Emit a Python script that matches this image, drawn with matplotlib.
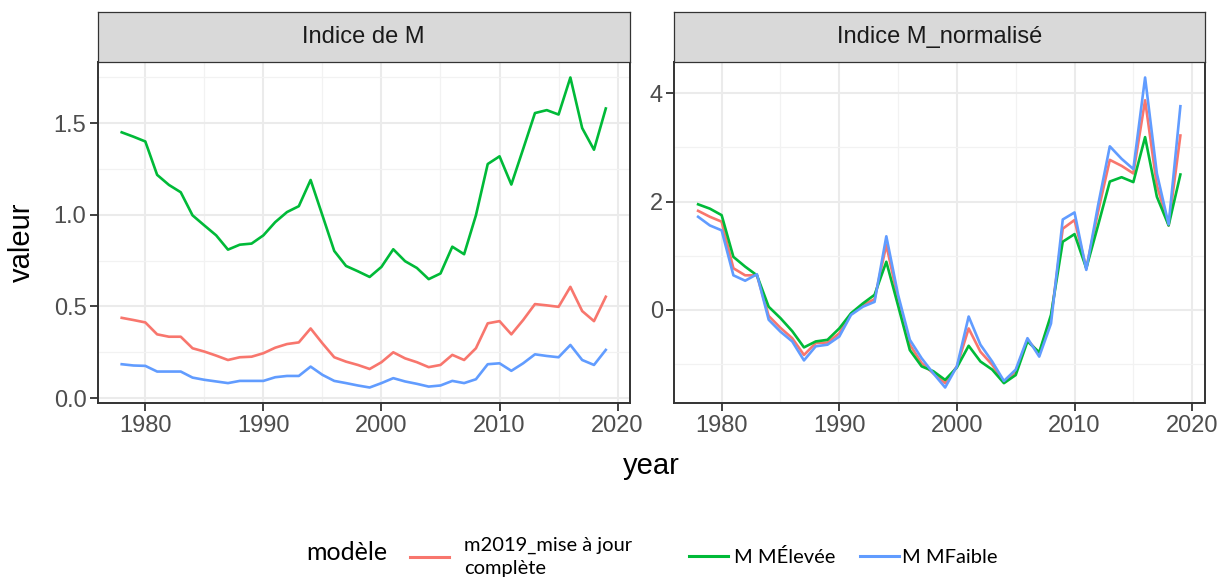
import matplotlib
matplotlib.use("Agg")
import matplotlib.pyplot as plt
from matplotlib.lines import Line2D
from matplotlib.ticker import MultipleLocator

years = [1978, 1979, 1980, 1981, 1982, 1983, 1984, 1985, 1986, 1987, 1988, 1989,
         1990, 1991, 1992, 1993, 1994, 1995, 1996, 1997, 1998, 1999, 2000, 2001,
         2002, 2003, 2004, 2005, 2006, 2007, 2008, 2009, 2010, 2011, 2012, 2013,
         2014, 2015, 2016, 2017, 2018, 2019]

# Panel 1: Indice de M
m2019_raw = [0.438, 0.426, 0.413, 0.348, 0.335, 0.335, 0.272, 0.254, 0.232, 0.208, 0.223, 0.226,
             0.245, 0.275, 0.295, 0.304, 0.380, 0.299, 0.223, 0.199, 0.181, 0.159, 0.196, 0.250,
             0.217, 0.196, 0.169, 0.181, 0.236, 0.208, 0.272, 0.408, 0.420, 0.348, 0.426, 0.513,
             0.506, 0.498, 0.607, 0.475, 0.420, 0.553]
elevee_raw = [1.450, 1.426, 1.400, 1.218, 1.163, 1.123, 0.997, 0.942, 0.888, 0.810, 0.837, 0.843,
              0.888, 0.960, 1.015, 1.047, 1.190, 0.997, 0.803, 0.721, 0.692, 0.661, 0.716, 0.812,
              0.747, 0.710, 0.649, 0.680, 0.826, 0.785, 0.997, 1.277, 1.319, 1.165, 1.359, 1.555,
              1.571, 1.547, 1.749, 1.473, 1.355, 1.580]
faible_raw = [0.185, 0.178, 0.176, 0.145, 0.145, 0.145, 0.112, 0.100, 0.091, 0.082, 0.094, 0.094,
              0.094, 0.114, 0.121, 0.121, 0.172, 0.127, 0.094, 0.082, 0.069, 0.058, 0.082, 0.109,
              0.091, 0.078, 0.063, 0.069, 0.094, 0.082, 0.103, 0.185, 0.190, 0.149, 0.190, 0.239,
              0.230, 0.223, 0.290, 0.208, 0.181, 0.263]

# Panel 2: Indice M_normalisé
m2019_norm = [1.83, 1.72, 1.63, 0.77, 0.64, 0.64, -0.11, -0.33, -0.52, -0.83, -0.61, -0.60,
              -0.43, -0.07, 0.09, 0.20, 1.20, 0.20, -0.64, -0.98, -1.17, -1.35, -1.04, -0.34,
              -0.77, -1.01, -1.32, -1.14, -0.55, -0.80, -0.15, 1.50, 1.66, 0.77, 1.81, 2.77,
              2.66, 2.52, 3.87, 2.30, 1.56, 3.22]
elevee_norm = [1.95, 1.87, 1.75, 0.98, 0.80, 0.64, 0.06, -0.15, -0.39, -0.69, -0.58, -0.55,
               -0.34, -0.06, 0.12, 0.28, 0.89, 0.08, -0.74, -1.04, -1.13, -1.29, -1.06, -0.66,
               -0.95, -1.10, -1.35, -1.20, -0.58, -0.78, -0.09, 1.26, 1.40, 0.77, 1.56, 2.37,
               2.45, 2.36, 3.19, 2.09, 1.56, 2.50]
faible_norm = [1.72, 1.56, 1.47, 0.64, 0.54, 0.66, -0.18, -0.40, -0.58, -0.93, -0.67, -0.64,
               -0.49, -0.09, 0.06, 0.15, 1.36, 0.28, -0.55, -0.89, -1.17, -1.43, -1.04, -0.12,
               -0.64, -0.95, -1.31, -1.10, -0.52, -0.86, -0.25, 1.67, 1.80, 0.74, 1.93, 3.02,
               2.79, 2.60, 4.29, 2.52, 1.58, 3.76]

series_labels = ["m2019_mise à jour\ncomplète", "M MÉlevée", "M MFaible"]
series_colors = ["#F8766D", "#00BA38", "#619CFF"]
panel_titles = ["Indice de M", "Indice M_normalisé"]
legend_title = "modèle"
x_label = "year"
y_label = "valeur"

W, H = 1224, 579
fig = plt.figure(figsize=(W / 100, H / 100), dpi=100)
fig.patch.set_facecolor("white")

tick_font = "Liberation Sans"
leg_font = "Lato"

panels = [
    dict(left=97.5, right=630.0, data=[m2019_raw, elevee_raw, faible_raw],
         ymajor=0.5, yminor=0.25, fmt="{:.1f}"),
    dict(left=674.0, right=1204.5, data=[m2019_norm, elevee_norm, faible_norm],
         ymajor=2, yminor=1, fmt="{:.0f}"),
]
top_px, bottom_px, strip_top_px = 62.0, 403.0, 11.7

border_col = "#333333"
handles = None
for p, title in zip(panels, panel_titles):
    ax = fig.add_axes([p["left"] / W, 1 - bottom_px / H,
                       (p["right"] - p["left"]) / W, (bottom_px - top_px) / H])
    lines = []
    for vals, col in zip(p["data"], series_colors):
        ln, = ax.plot(years, vals, color=col, lw=1.9, solid_joinstyle="round", zorder=3)
        lines.append(ln)
    handles = lines
    ax.margins(x=0.05, y=0.05)
    ax.xaxis.set_major_locator(MultipleLocator(10))
    ax.xaxis.set_minor_locator(MultipleLocator(5))
    ax.yaxis.set_major_locator(MultipleLocator(p["ymajor"]))
    ax.yaxis.set_minor_locator(MultipleLocator(p["yminor"]))
    fmt = p["fmt"]
    ax.yaxis.set_major_formatter(plt.FuncFormatter(lambda v, pos, f=fmt: f.format(v + 0.0)))
    ax.grid(which="major", color="#EBEBEB", lw=1.5, zorder=0)
    ax.grid(which="minor", color="#F2F2F2", lw=0.9, zorder=0)
    ax.set_axisbelow(True)
    for s in ax.spines.values():
        s.set_color(border_col)
        s.set_linewidth(1.4)
        s.set_zorder(5)
    ax.tick_params(which="major", length=6, width=1.3, color=border_col,
                   labelsize=17, labelcolor="#4D4D4D", pad=3)
    ax.tick_params(axis="y", which="major", pad=2)
    ax.tick_params(which="minor", length=0)
    for lab in ax.get_xticklabels() + ax.get_yticklabels():
        lab.set_fontfamily(tick_font)

    # strip
    sax = fig.add_axes([p["left"] / W, 1 - top_px / H,
                        (p["right"] - p["left"]) / W, (top_px - strip_top_px) / H])
    sax.set_facecolor("#D9D9D9")
    sax.set_xticks([])
    sax.set_yticks([])
    for s in sax.spines.values():
        s.set_color(border_col)
        s.set_linewidth(0.9)
    sax.text(0.5, 0.5, title, ha="center", va="center", fontsize=17,
             color="#1A1A1A", family=tick_font, transform=sax.transAxes)

fig.text(22 / W, 1 - 242 / H, y_label, rotation=90, ha="center", va="center",
         fontsize=21, family=tick_font, color="black")
fig.text(651 / W, 1 - 466 / H, x_label, ha="center", va="center",
         fontsize=21, family=tick_font, color="black")

# legend
fig.text(347 / W, 1 - 552 / H, legend_title, ha="center", va="center",
         fontsize=18, family=leg_font, color="black")
key_starts = [410, 689, 860]
text_pads = [0.75, 0.3, 0.15]
for h, lab, x0, tp in zip(handles, series_labels, key_starts, text_pads):
    lg = fig.legend([Line2D([], [], color=h.get_color(), lw=2.2)], [lab],
                    loc="center left", bbox_to_anchor=(x0 / W, 1 - 557 / H),
                    frameon=False, borderpad=0, borderaxespad=0,
                    handlelength=1.95, handletextpad=tp,
                    prop={"family": leg_font, "size": 14.5})
    for t in lg.get_texts():
        t.set_linespacing(1.45)

fig.savefig("out.png", dpi=100, facecolor="white")
